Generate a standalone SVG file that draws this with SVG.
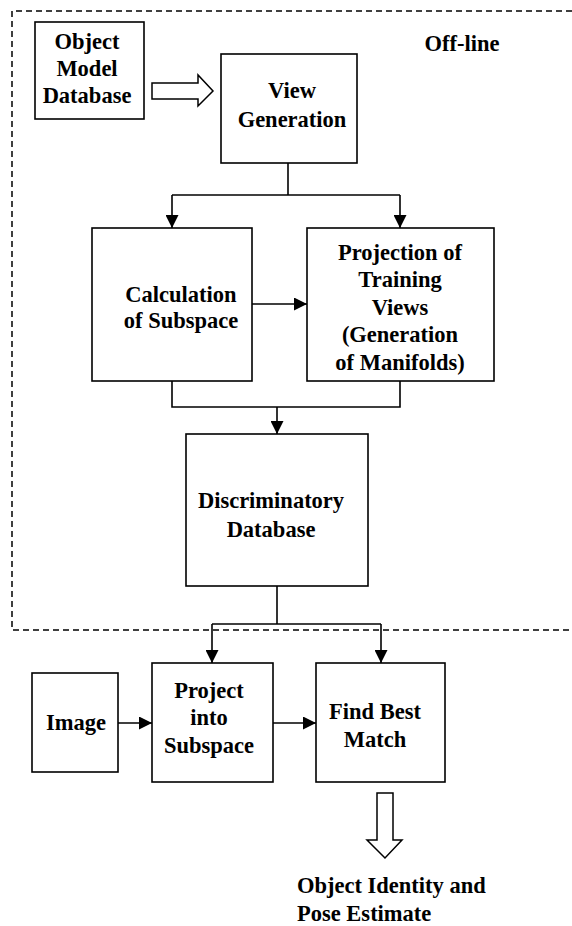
<svg xmlns="http://www.w3.org/2000/svg" width="572" height="926" viewBox="0 0 572 926">
  <defs>
    <marker id="ah" markerUnits="userSpaceOnUse" markerWidth="13" markerHeight="13" viewBox="0 0 13 13" refX="13" refY="6.5" orient="auto">
      <path d="M0,0 L13,6.5 L0,13 Z" fill="#000"/>
    </marker>
    <style>
      .box { fill: #fff; stroke: #000; stroke-width: 1.6; }
      .ln { fill: none; stroke: #000; stroke-width: 1.6; }
      .arr { fill: none; stroke: #000; stroke-width: 1.6; marker-end: url(#ah); }
      .hollow { fill: #fff; stroke: #000; stroke-width: 1.5; }
      .t { font-family: "Liberation Serif", "Times New Roman", serif; font-weight: bold; font-size: 22.5px; fill: #000; text-anchor: middle; }
      .tl { text-anchor: start; }
    </style>
  </defs>
  <rect width="572" height="926" fill="#fff"/>

  <g id="offline-region">
    <path d="M572,11 H12 V630 H572" fill="none" stroke="#000" stroke-width="1.5" stroke-dasharray="6,4"/>
    <text class="t" x="462" y="51">Off-line</text>
  </g>

  <g id="connectors">
    <path class="ln" d="M288,163 V195"/>
    <path class="ln" d="M172,195 H400"/>
    <path class="arr" d="M172,195 V228"/>
    <path class="arr" d="M400,195 V228"/>
    <path class="arr" d="M252,304 H307"/>
    <path class="ln" d="M172,381 V407 H400 V381"/>
    <path class="arr" d="M277,407 V434"/>
    <path class="ln" d="M277,586 V624"/>
    <path class="ln" d="M212,624 H381"/>
    <path class="arr" d="M212,624 V663"/>
    <path class="arr" d="M381,624 V663"/>
    <path class="arr" d="M118,723 H152"/>
    <path class="arr" d="M273,723 H316"/>
    <polygon class="hollow" points="152,83 198,83 198,75 213,91 198,106 198,99 152,99"/>
    <polygon class="hollow" points="377,793 393,793 393,840 402,840 385,858 367,840 377,840"/>
  </g>

  <g id="object-model-database">
    <rect class="box" x="35" y="22" width="109" height="97"/>
    <text class="t" x="87" y="49">Object</text>
    <text class="t" x="87" y="76">Model</text>
    <text class="t" x="87" y="103">Database</text>
  </g>

  <g id="view-generation">
    <rect class="box" x="221" y="54" width="136" height="109"/>
    <text class="t" x="292" y="98">View</text>
    <text class="t" x="292" y="127">Generation</text>
  </g>

  <g id="calculation-of-subspace">
    <rect class="box" x="92" y="228" width="160" height="153"/>
    <text class="t" x="181" y="302">Calculation</text>
    <text class="t" x="181" y="328">of Subspace</text>
  </g>

  <g id="projection-of-training-views">
    <rect class="box" x="307" y="228" width="187" height="153"/>
    <text class="t" x="400" y="260">Projection of</text>
    <text class="t" x="400" y="287">Training</text>
    <text class="t" x="400" y="315">Views</text>
    <text class="t" x="400" y="342">(Generation</text>
    <text class="t" x="400" y="370">of Manifolds)</text>
  </g>

  <g id="discriminatory-database">
    <rect class="box" x="186" y="434" width="182" height="152"/>
    <text class="t" x="271" y="508">Discriminatory</text>
    <text class="t" x="271" y="537">Database</text>
  </g>

  <g id="image">
    <rect class="box" x="32" y="673" width="86" height="99"/>
    <text class="t" x="76" y="730">Image</text>
  </g>

  <g id="project-into-subspace">
    <rect class="box" x="152" y="663" width="121" height="119"/>
    <text class="t" x="209" y="698">Project</text>
    <text class="t" x="209" y="725">into</text>
    <text class="t" x="209" y="753">Subspace</text>
  </g>

  <g id="find-best-match">
    <rect class="box" x="316" y="663" width="129" height="119"/>
    <text class="t" x="375" y="719">Find Best</text>
    <text class="t" x="375" y="747">Match</text>
  </g>

  <g id="object-identity">
    <text class="t tl" x="297" y="893">Object Identity and</text>
    <text class="t tl" x="297" y="921">Pose Estimate</text>
  </g>
</svg>
